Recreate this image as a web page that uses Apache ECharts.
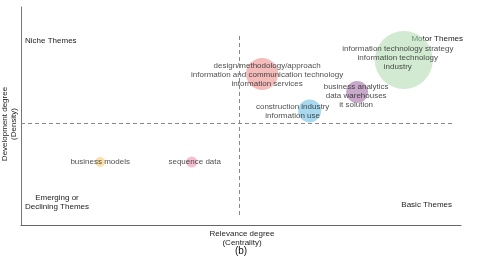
<!DOCTYPE html>
<html>
<head>
<meta charset="utf-8">
<script src="https://cdn.jsdelivr.net/npm/echarts@6/dist/echarts.min.js"></script>
<style>html,body{margin:0;padding:0;background:#fff}#c{width:480px;height:265px}</style>
</head>
<body>
<div id="c"></div>
<script>
// ---- data ----
var themeLabels = [
  "information technology strategy\ninformation technology\nindustry",
  "design/methodology/approach\ninformation and communication technology\ninformation services",
  "business analytics\ndata warehouses\nit solution",
  "construction industry\ninformation use",
  "business models",
  "sequence data"
];
var centrality = [87.0, 54.8, 76.4, 65.6, 18.0, 38.8];
var density    = [75.7, 69.3, 61.0, 52.3, 28.9, 28.9];
var bubbleSize = [58, 32, 22, 23, 10, 11];
var centralityMid = 49.5;
var densityMid = 46.8;
var quadrantNames = ["Motor Themes", "Niche Themes", "Emerging or\nDeclining Themes", "Basic Themes"];

// ---- styles ----
var colors = ["rgba(180,220,178,0.75)", "rgba(240,150,150,0.8)", "rgba(170,120,170,0.8)",
              "rgba(120,195,230,0.8)", "rgba(248,210,130,0.85)", "rgba(240,160,190,0.85)"];
var labelOffsets = [[-6,-2],[5,1],[-1,4],[-17,0],[0,0],[3,0]];
var FONT = "Liberation Sans, Arial, sans-serif";
var TXT = "#222";

var points = themeLabels.map(function (n, i) {
  return {
    value: [centrality[i], density[i], bubbleSize[i]],
    symbolSize: bubbleSize[i],
    itemStyle: { color: colors[i] },
    label: { show: true, formatter: n, position: "inside", offset: labelOffsets[i],
      color: TXT, fontSize: 8, lineHeight: 9, fontFamily: FONT, align: "center" }
  };
});

var chart = echarts.init(document.getElementById("c"), null, { renderer: "canvas" });
chart.setOption({
  animation: false,
  grid: { left: 21, right: 19, top: 7, bottom: 40 },
  xAxis: { type: "value", min: 0, max: 100, splitLine: { show: false },
    axisTick: { show: false }, axisLabel: { show: false },
    axisLine: { show: true, lineStyle: { color: "#666", width: 1 } } },
  yAxis: { type: "value", min: 0, max: 100, splitLine: { show: false },
    axisTick: { show: false }, axisLabel: { show: false },
    axisLine: { show: true, lineStyle: { color: "#777", width: 1 } } },
  series: [{
    type: "scatter",
    data: points,
    z: 3,
    markLine: {
      silent: true, symbol: "none", label: { show: false },
      lineStyle: { type: [4, 3], color: "#888", width: 1 },
      data: [
        [{ coord: [0, densityMid] }, { coord: [98.6, densityMid] }],
        [{ coord: [centralityMid, 4.6] }, { coord: [centralityMid, 87] }]
      ]
    }
  }],
  graphic: [
    { type: "text", left: 25, top: 37, style: { text: quadrantNames[1], fill: TXT, font: "8px " + FONT } },
    { type: "text", right: 17, top: 35, style: { text: quadrantNames[0], fill: TXT, font: "8px " + FONT } },
    { type: "text", x: 57, y: 193, style: { text: quadrantNames[2], fill: TXT, font: "8px " + FONT, textAlign: "center", lineHeight: 9 } },
    { type: "text", right: 28, top: 201, style: { text: quadrantNames[3], fill: TXT, font: "8px " + FONT } },
    { type: "text", x: 242, y: 229, style: { text: "Relevance degree\n(Centrality)", fill: TXT, font: "8px " + FONT, textAlign: "center", lineHeight: 9 } },
    { type: "text", x: 241, y: 246, style: { text: "(b)", fill: "#111", font: "10px " + FONT, textAlign: "center" } },
    { type: "text", x: 9, y: 124, rotation: Math.PI / 2, style: { text: "Development degree\n(Density)", fill: TXT, font: "8px " + FONT, textAlign: "center", textVerticalAlign: "middle", lineHeight: 9 } }
  ]
});
</script>
</body>
</html>
